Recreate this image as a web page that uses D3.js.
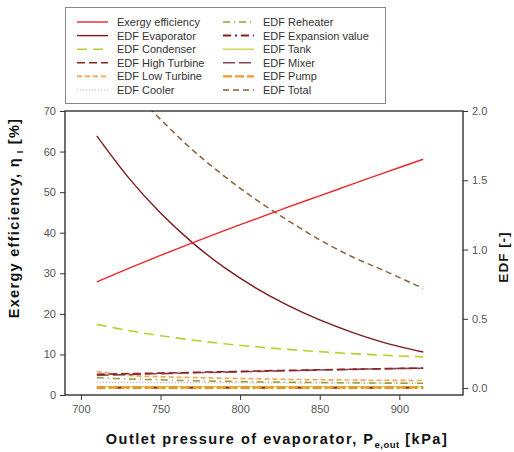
<!DOCTYPE html>
<html>
<head>
<meta charset="utf-8">
<script src="https://cdn.jsdelivr.net/npm/d3@7"></script>
<style>
  body { margin: 0; background: #fff; }
  svg { font-family: "Liberation Sans", Arial, sans-serif; }
</style>
</head>
<body>
<div id="chart"></div>
<script>
// pressure points (kPa)
var pressure = [710, 730, 750, 770, 790, 810, 830, 850, 870, 890, 915];

// left axis series [%]
var exergyEff = [27.9, 31.2, 34.4, 37.5, 40.5, 43.4, 46.3, 49.1, 51.9, 54.7, 58.1];

// right axis series [-]
var edfEvaporator = [1.82, 1.517, 1.263, 1.05, 0.871, 0.722, 0.597, 0.492, 0.404, 0.330, 0.26];
var edfCondenser  = [0.46, 0.415, 0.378, 0.347, 0.32, 0.298, 0.279, 0.263, 0.249, 0.237, 0.225];
var edfHighTurb   = [0.10, 0.104, 0.108, 0.113, 0.118, 0.123, 0.128, 0.132, 0.136, 0.140, 0.145];
var edfLowTurb    = [0.12, 0.092, 0.082, 0.076, 0.071, 0.067, 0.063, 0.060, 0.058, 0.056, 0.055];
var edfCooler     = [0.042, 0.041, 0.040, 0.040, 0.039, 0.038, 0.037, 0.037, 0.036, 0.036, 0.035];
var edfReheater   = [0.075, 0.066, 0.059, 0.053, 0.049, 0.045, 0.042, 0.040, 0.038, 0.036, 0.035];
var edfExpansion  = [0.002, 0.002, 0.002, 0.002, 0.002, 0.002, 0.002, 0.002, 0.002, 0.002, 0.002];
var edfTank       = [0.010, 0.010, 0.010, 0.010, 0.010, 0.010, 0.010, 0.010, 0.010, 0.010, 0.010];
var edfMixer      = [0.092, 0.098, 0.104, 0.110, 0.115, 0.120, 0.125, 0.130, 0.135, 0.139, 0.143];
var edfPump       = [0.003, 0.003, 0.003, 0.003, 0.003, 0.003, 0.003, 0.003, 0.003, 0.003, 0.003];
var edfTotal      = [2.46, 2.18, 1.94, 1.72, 1.53, 1.36, 1.21, 1.07, 0.95, 0.85, 0.72];

var xTicks = [700, 750, 800, 850, 900];
var leftTicks = [0, 10, 20, 30, 40, 50, 60, 70];
var rightTicks = [0, 0.5, 1.0, 1.5, 2.0];

var svg = d3.select("#chart").append("svg")
            .attr("width", 514)
            .attr("height", 452);

var margin = { top: 111, right: 51, bottom: 57, left: 65 },
    width = 514 - margin.left - margin.right,
    height = 452 - margin.top - margin.bottom;

var g = svg.append("g").attr("transform", "translate(" + margin.left + "," + margin.top + ")");

var x = d3.scaleLinear().domain([690, 940]).range([0, width]);
var yL = d3.scaleLinear().domain([0, 70]).range([height, 0]);
var yR = d3.scaleLinear().domain([-0.05, 2.0]).range([height, 0]);

// clip so the total curve is cut at the top frame
g.append("clipPath").attr("id", "plot-clip")
 .append("rect").attr("width", width).attr("height", height);

// series definitions: label, values, axis, colour, dash, width
var series = [
    { name: "EDF Tank", vals: edfTank, axis: yR, color: "#c5d23c", dash: null, w: 1.3 },
    { name: "EDF Expansion value", vals: edfExpansion, axis: yR, color: "#8c1e1e", dash: "8,4,2,4", w: 2 },
    { name: "EDF Pump", vals: edfPump, axis: yR, color: "#f39a2a", dash: "9,3", w: 2.2 },
    { name: "EDF Cooler", vals: edfCooler, axis: yR, color: "#c9a6a6", dash: "1,2", w: 1.2 },
    { name: "EDF Reheater", vals: edfReheater, axis: yR, color: "#9aa035", dash: "7,4,1,4", w: 1.6 },
    { name: "EDF Low Turbine", vals: edfLowTurb, axis: yR, color: "#f6a448", dash: "5,3", w: 1.6 },
    { name: "EDF Mixer", vals: edfMixer, axis: yR, color: "#8a4656", dash: "12,4", w: 1.6 },
    { name: "EDF High Turbine", vals: edfHighTurb, axis: yR, color: "#8e2424", dash: "8,4", w: 1.6 },
    { name: "EDF Condenser", vals: edfCondenser, axis: yR, color: "#bccf2e", dash: "10,6", w: 1.6 },
    { name: "EDF Evaporator", vals: edfEvaporator, axis: yR, color: "#7a1a22", dash: null, w: 1.4 },
    { name: "EDF Total", vals: edfTotal, axis: yR, color: "#8b6038", dash: "6,4", w: 1.5 },
    { name: "Exergy efficiency", vals: exergyEff, axis: yL, color: "#e8282c", dash: null, w: 1.4 }
];

series.forEach(function(s) {
    var line = d3.line()
                 .curve(d3.curveCatmullRom)
                 .x(function(d, i) { return x(pressure[i]); })
                 .y(function(d) { return s.axis(d); });

    g.append("path")
     .datum(s.vals)
     .attr("clip-path", "url(#plot-clip)")
     .attr("fill", "none")
     .attr("stroke", s.color)
     .attr("stroke-width", s.w)
     .attr("stroke-dasharray", s.dash)
     .attr("d", line);
});

// frame
g.append("rect")
 .attr("width", width)
 .attr("height", height)
 .attr("fill", "none")
 .attr("stroke", "#222")
 .attr("stroke-width", 1.3);

// axes
var xAxis = g.append("g")
 .attr("transform", "translate(0," + height + ")")
 .call(d3.axisBottom(x).tickValues(xTicks).tickSize(5).tickPadding(5));

var leftAxis = g.append("g")
 .call(d3.axisLeft(yL).tickValues(leftTicks).tickSize(5).tickPadding(4));

var rightAxis = g.append("g")
 .attr("transform", "translate(" + width + ",0)")
 .call(d3.axisRight(yR).tickValues(rightTicks).tickFormat(d3.format(".1f")).tickSize(5).tickPadding(4));

[xAxis, leftAxis, rightAxis].forEach(function(a) {
    a.select(".domain").remove();
    a.selectAll("line").attr("stroke", "#333");
    a.selectAll("text").attr("fill", "#555").style("font-size", "11px");
});

// axis titles
var yTitle = svg.append("text")
 .attr("transform", "translate(19,218) rotate(-90)")
 .attr("text-anchor", "middle")
 .attr("fill", "#111")
 .style("font-size", "14.5px")
 .style("font-weight", "bold")
 .style("letter-spacing", "1.3px");
yTitle.append("tspan").text("Exergy efficiency, η");
yTitle.append("tspan").attr("dy", 4).style("font-size", "9px").text("  I");
yTitle.append("tspan").attr("dy", -4).text("  [%]");

svg.append("text")
 .attr("transform", "translate(508,257) rotate(-90)")
 .attr("text-anchor", "middle")
 .attr("fill", "#111")
 .style("font-size", "13.5px")
 .style("font-weight", "bold")
 .style("letter-spacing", "1px")
 .text("EDF [-]");

var xTitle = svg.append("text")
 .attr("x", 277)
 .attr("y", 444)
 .attr("text-anchor", "middle")
 .attr("fill", "#111")
 .style("font-size", "14.5px")
 .style("font-weight", "bold")
 .style("letter-spacing", "1.5px");
xTitle.append("tspan").text("Outlet pressure of evaporator, P");
xTitle.append("tspan").attr("dy", 4).style("font-size", "9.5px").style("letter-spacing", "0.5px").text("e,out");
xTitle.append("tspan").attr("dy", -4).text(" [kPa]");

// legend
var legendOrder = [
    "Exergy efficiency", "EDF Evaporator", "EDF Condenser", "EDF High Turbine", "EDF Low Turbine", "EDF Cooler",
    "EDF Reheater", "EDF Expansion value", "EDF Tank", "EDF Mixer", "EDF Pump", "EDF Total"
];

var legend = svg.append("g");
legend.append("rect")
 .attr("x", 65.5)
 .attr("y", 7.5)
 .attr("width", 320)
 .attr("height", 96)
 .attr("fill", "#fff")
 .attr("stroke", "#888");

legendOrder.forEach(function(name, i) {
    var s = series.find(function(d) { return d.name === name; });
    var col = Math.floor(i / 6), row = i % 6;
    var lx = col === 0 ? 77 : 223;
    var ly = 22 + row * 13.6;

    legend.append("line")
     .attr("x1", lx).attr("x2", lx + 31)
     .attr("y1", ly).attr("y2", ly)
     .attr("stroke", s.color)
     .attr("stroke-width", s.w)
     .attr("stroke-dasharray", s.dash);

    legend.append("text")
     .attr("x", lx + 40)
     .attr("y", ly + 4)
     .attr("fill", "#333")
     .style("font-size", "11px")
     .text(name);
});
</script>
</body>
</html>
